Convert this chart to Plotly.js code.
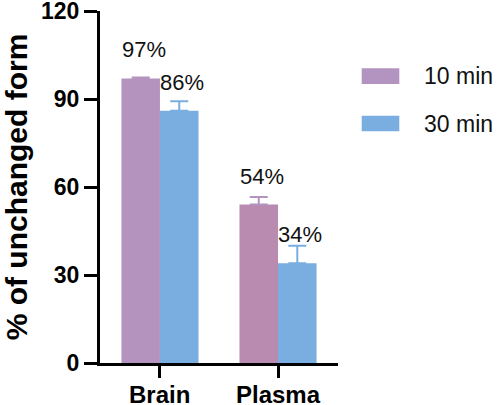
<!DOCTYPE html>
<html>
<head>
<meta charset="utf-8">
<script src="https://cdn.plot.ly/plotly-3.0.1.min.js"></script>
<style>
  html, body { margin: 0; padding: 0; background: #fff; }
  #chart { width: 497px; height: 405px; }
</style>
</head>
<body>
<div id="chart"></div>
<script>
// Sample groups and time points
const categories = ['Brain', 'Plasma'];
const seriesNames = ['10 min', '30 min'];

// Percent of unchanged form (mean) and upper error (SD)
const values10 = [97, 54];
const values30 = [86, 34];
const errors10 = [0.3, 2.6];
const errors30 = [3.2, 6.0];

const yTicks = [0, 30, 60, 90, 120];

const FONT = 'Liberation Sans, Arial, Helvetica, sans-serif';
const purpleBars = ['#b494bf', '#b98bb0'];
const purpleKey = '#b393bf';
const blue = '#7aaee0';
const BARGAP = 0.347;

function barTrace(name, vals, errs, color) {
  return {
    type: 'bar',
    name: name,
    x: categories,
    y: vals,
    marker: { color: color, line: { width: 0 } },
    error_y: {
      type: 'data',
      symmetric: false,
      array: errs,
      arrayminus: errs.map(() => 0),
      color: Array.isArray(color) ? color[0] : color,
      thickness: 2,
      width: 9
    },
    hoverinfo: 'x+y+name'
  };
}

const traces = [
  barTrace(seriesNames[0], values10, errors10, purpleBars),
  barTrace(seriesNames[1], values30, errors30, blue)
];

// Percentage labels above each bar
const barW = (1 - BARGAP) / 2;
const annotations = [];
[values10, values30].forEach((vals, s) => {
  vals.forEach((v, i) => {
    annotations.push({
      xref: 'x', yref: 'y',
      x: i + (s === 0 ? -barW / 2 : barW / 2),
      y: v,
      text: v + '%',
      showarrow: false,
      xanchor: 'center', yanchor: 'bottom',
      xshift: 3, yshift: 14,
      font: { family: FONT, size: 22, color: '#111' }
    });
  });
});

// Category names under the x axis ticks
categories.forEach((c, i) => {
  annotations.push({
    xref: 'x', yref: 'paper',
    x: i, y: 0,
    text: c, showarrow: false,
    xanchor: 'center', yanchor: 'top',
    yshift: -16,
    font: { family: FONT, size: 24, color: '#000', weight: 'bold' }
  });
});

// Legend: swatches and labels on the right
const keyColors = [purpleKey, blue];
const keyRows = [[0.7924, 0.8377], [0.6581, 0.7025]];
const shapes = [];
seriesNames.forEach((n, k) => {
  shapes.push({
    type: 'rect', xref: 'paper', yref: 'paper',
    x0: 1.0996, x1: 1.2576, y0: keyRows[k][0], y1: keyRows[k][1],
    fillcolor: keyColors[k], line: { width: 0 }
  });
  annotations.push({
    xref: 'paper', yref: 'paper',
    x: 1.3517, y: (keyRows[k][0] + keyRows[k][1]) / 2,
    text: n, showarrow: false,
    xanchor: 'left', yanchor: 'middle',
    font: { family: FONT, size: 23, color: '#111' }
  });
});

const layout = {
  width: 497,
  height: 405,
  margin: { l: 100, r: 159, t: 11, b: 42 },
  paper_bgcolor: '#fff',
  plot_bgcolor: '#fff',
  barmode: 'group',
  bargap: BARGAP,
  bargroupgap: 0,
  showlegend: false,
  font: { family: FONT, color: '#000' },
  xaxis: {
    type: 'category',
    range: [-0.508, 1.508],
    showline: true, linewidth: 3, linecolor: '#000',
    ticks: 'outside', ticklen: 12, tickwidth: 3, tickcolor: '#000',
    showticklabels: false,
    showgrid: false, zeroline: false, fixedrange: true
  },
  yaxis: {
    range: [0, 120],
    tickvals: yTicks,
    showline: true, linewidth: 3, linecolor: '#000',
    ticks: 'outside', ticklen: 13, tickwidth: 3, tickcolor: '#000',
    ticklabeloverflow: 'allow',
    tickfont: { family: FONT, size: 23, color: '#000', weight: 'bold' },
    showgrid: false, zeroline: false, fixedrange: true,
    title: {
      text: '% of unchanged form',
      font: { family: FONT, size: 30, color: '#000', weight: 'bold' },
      standoff: 20
    }
  },
  annotations: annotations,
  shapes: shapes
};

Plotly.newPlot('chart', traces, layout, { displayModeBar: false, staticPlot: true });
</script>
</body>
</html>
